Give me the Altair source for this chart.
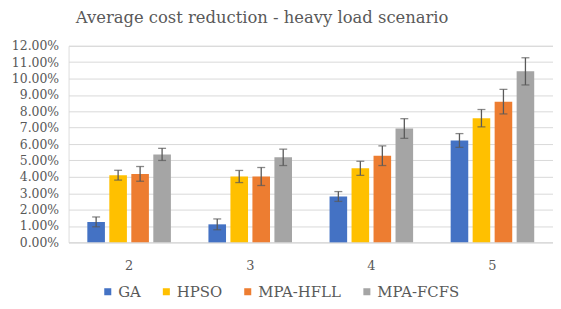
import altair as alt
import pandas as pd

categories = ["2", "3", "4", "5"]
series = ["GA", "HPSO", "MPA-HFLL", "MPA-FCFS"]
colors = ["#4472C4", "#FFC000", "#ED7D31", "#A5A5A5"]

ga = [1.25, 1.10, 2.80, 6.22]
hpso = [4.10, 4.02, 4.52, 7.58]
hfll = [4.18, 4.02, 5.29, 8.59]
fcfs = [5.37, 5.19, 6.95, 10.44]

ga_err = [0.30, 0.33, 0.30, 0.42]
hpso_err = [0.30, 0.37, 0.43, 0.53]
hfll_err = [0.45, 0.55, 0.60, 0.75]
fcfs_err = [0.37, 0.50, 0.60, 0.83]

tick_values = [0.00, 0.01, 0.02, 0.03, 0.04, 0.05, 0.06, 0.07, 0.08, 0.09, 0.10, 0.11, 0.12]

rows = []
for s, vals, errs in zip(series, [ga, hpso, hfll, fcfs], [ga_err, hpso_err, hfll_err, fcfs_err]):
    for c, v, e in zip(categories, vals, errs):
        rows.append({"cat": c, "series": s, "v": v / 100, "lo": (v - e) / 100, "hi": (v + e) / 100})
df = pd.DataFrame(rows)

FONT = "DejaVu Serif"
GRAY = "#595959"

x = alt.X("cat:N", sort=categories, title=None,
          scale=alt.Scale(paddingInner=0.31, paddingOuter=0.155),
          axis=alt.Axis(labelAngle=0, labelFont=FONT, labelFontSize=13, labelColor=GRAY,
                        ticks=False, domainColor="#D9D9D9", labelPadding=17))
xo = alt.XOffset("series:N", sort=series,
                 scale=alt.Scale(paddingInner=0.2, paddingOuter=0))
yscale = alt.Scale(domain=[0, 0.12], nice=False, zero=True)
yaxis = alt.Axis(values=tick_values, tickCount=13, format=".2%", labelFont=FONT,
                 labelFontSize=12.5, labelColor=GRAY, ticks=False, domain=False,
                 gridColor="#D9D9D9", labelPadding=10, labelOverlap=False)


def Y(field):
    return alt.Y(field, title=None, scale=yscale, axis=yaxis)


bars = alt.Chart(df).mark_bar().encode(
    x=x, xOffset=xo, y=Y("v:Q"),
    color=alt.Color("series:N", sort=series, scale=alt.Scale(domain=series, range=colors),
                    legend=alt.Legend(title=None, orient="none", direction="horizontal",
                                      legendX=32, legendY=240, symbolType="square",
                                      symbolSize=50, labelFont=FONT, labelFontSize=15,
                                      labelColor=GRAY, columnPadding=18, symbolOffset=0,
                                      labelOffset=3)),
)

rule = alt.Chart(df).mark_rule(color=GRAY, strokeWidth=1.3).encode(
    x=x, xOffset=xo, y=Y("lo:Q"), y2="hi:Q")
cap_lo = alt.Chart(df).mark_tick(color=GRAY, size=8, thickness=1.3).encode(
    x=x, xOffset=xo, y=Y("lo:Q"))
cap_hi = alt.Chart(df).mark_tick(color=GRAY, size=8, thickness=1.3).encode(
    x=x, xOffset=xo, y=Y("hi:Q"))

chart = alt.layer(bars, rule, cap_lo, cap_hi).properties(
    width=488, height=198,
    title=alt.TitleParams("Average cost reduction - heavy load scenario", font=FONT,
                          fontSize=16.5, fontWeight="normal", color=GRAY, dx=-49, offset=13),
    autosize=alt.AutoSizeParams(type="none"),
    padding={"left": 61, "top": 37, "right": 0, "bottom": 58},
).configure_view(stroke=None).configure(background="white")

chart.save("out.html", embed_options={"renderer": "svg", "actions": False})
